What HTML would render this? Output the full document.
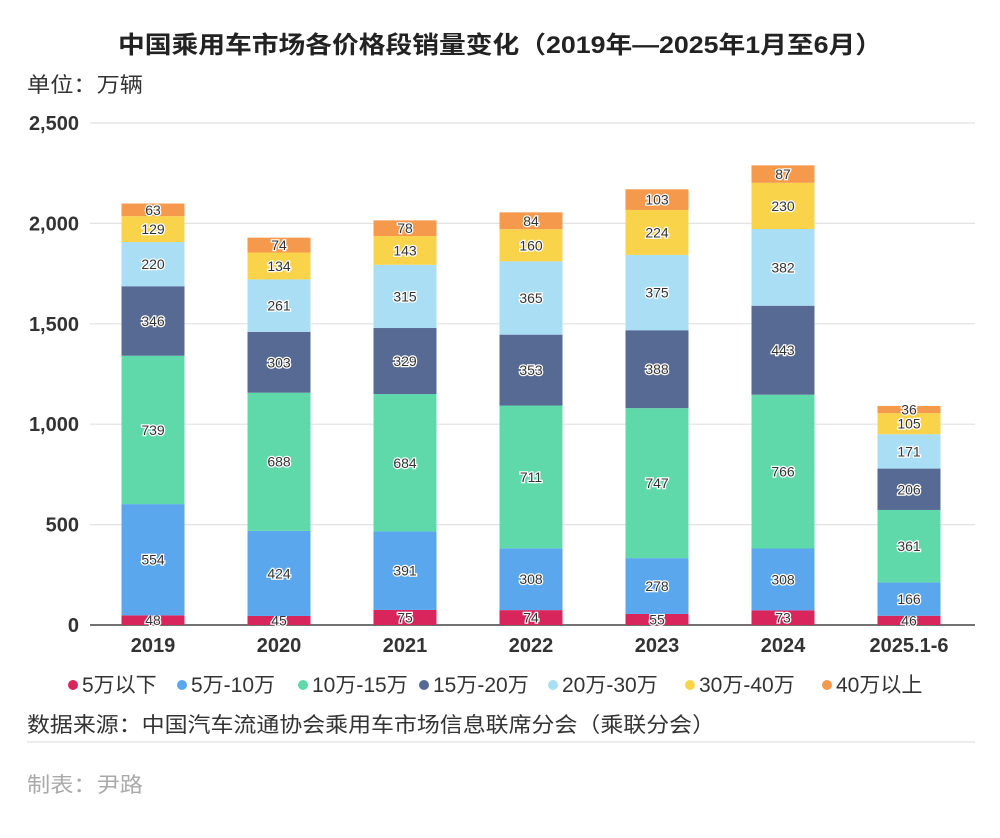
<!DOCTYPE html>
<html><head><meta charset="utf-8"><style>
body{margin:0;background:#fff;}
svg text{font-family:"Liberation Sans","Noto Sans CJK SC",sans-serif;}
</style></head><body>
<svg id="chart" width="1000" height="833" viewBox="0 0 1000 833">
<text x="118" y="53" textLength="764" lengthAdjust="spacingAndGlyphs" font-size="24" font-weight="bold" fill="#222">中国乘用车市场各价格段销量变化（2019年—2025年1月至6月）</text>
<text x="27" y="92" textLength="116" lengthAdjust="spacingAndGlyphs" font-size="21" fill="#333">单位：万辆</text>
<g id="grid"></g><g id="bars"></g><g id="legend"></g>
<text x="27" y="732" textLength="688" lengthAdjust="spacingAndGlyphs" font-size="21" fill="#333">数据来源：中国汽车流通协会乘用车市场信息联席分会（乘联分会）</text>
<line x1="27" y1="742" x2="975" y2="742" stroke="#e6e6e6" stroke-width="1.5"/>
<text x="27" y="792" textLength="116" lengthAdjust="spacingAndGlyphs" font-size="21" fill="#aaa">制表：尹路</text>
</svg>
<script>
const categories=["2019","2020","2021","2022","2023","2024","2025.1-6"];
const seriesNames=["5万以下","5万-10万","10万-15万","15万-20万","20万-30万","30万-40万","40万以上"];
const s0=[48,45,75,74,55,73,46];
const s1=[554,424,391,308,278,308,166];
const s2=[739,688,684,711,747,766,361];
const s3=[346,303,329,353,388,443,206];
const s4=[220,261,315,365,375,382,171];
const s5=[129,134,143,160,224,230,105];
const s6=[63,74,78,84,103,87,36];
const yTicks=[0,500,1000,1500,2000,2500];
const yTickLabels=["0","500","1,000","1,500","2,000","2,500"];
const series=[s0,s1,s2,s3,s4,s5,s6];
const colors=["#d8255b","#5aa7ee","#5fd9aa","#566a93","#a9def4","#f9d44b","#f5994d"];
const NS="http://www.w3.org/2000/svg";
const y=v=>625-v*0.2008;
const xc=i=>153+i*126;
const bw=63;
function mk(t,a,p){const e=document.createElementNS(NS,t);for(const k in a)e.setAttribute(k,a[k]);p.appendChild(e);return e;}
const grid=document.getElementById('grid');
yTicks.forEach((v,i)=>{
  if(v>0){const l=mk('line',{x1:90,x2:975,y1:y(v),y2:y(v),stroke:'#e2e2e2','stroke-width':1.2},grid);
  
  }
  const t=mk('text',{x:79,y:y(v)+7,'text-anchor':'end','font-size':20,'font-weight':'bold',fill:'#333'},grid);
  t.textContent=yTickLabels[i];
  
  
});
const ax=mk('line',{x1:90,x2:975,y1:y(0),y2:y(0),stroke:'#444','stroke-width':1.5},grid);


const bars=document.getElementById('bars');
categories.forEach((c,i)=>{
  let base=0;
  series.forEach((s,k)=>{
    const v=s[i];
    const r=mk('rect',{x:xc(i)-bw/2,y:y(base+v),width:bw,height:y(base)-y(base+v),fill:colors[k]},bars);
    
    
    const t=mk('text',{x:xc(i),y:(y(base)+y(base+v))/2+5,'text-anchor':'middle','font-size':14,fill:'#333',stroke:'#fff','stroke-width':2.5,'paint-order':'stroke'},bars);
    t.textContent=v;
    
    
    base+=v;
  });
  const t=mk('text',{x:xc(i),y:652,'text-anchor':'middle','font-size':20,'font-weight':'bold',fill:'#333'},bars);
  t.textContent=c;
  
  
});
const lg=document.getElementById('legend');
const lx=[73,182,303,424,553,690,827];
seriesNames.forEach((n,k)=>{
  const c=mk('circle',{cx:lx[k],cy:685,r:5,fill:colors[k]},lg);
  
  
  const t=mk('text',{x:lx[k]+9,y:692,'font-size':21,fill:'#333'},lg);
  t.textContent=n;
  
  
});
</script>
</body></html>
